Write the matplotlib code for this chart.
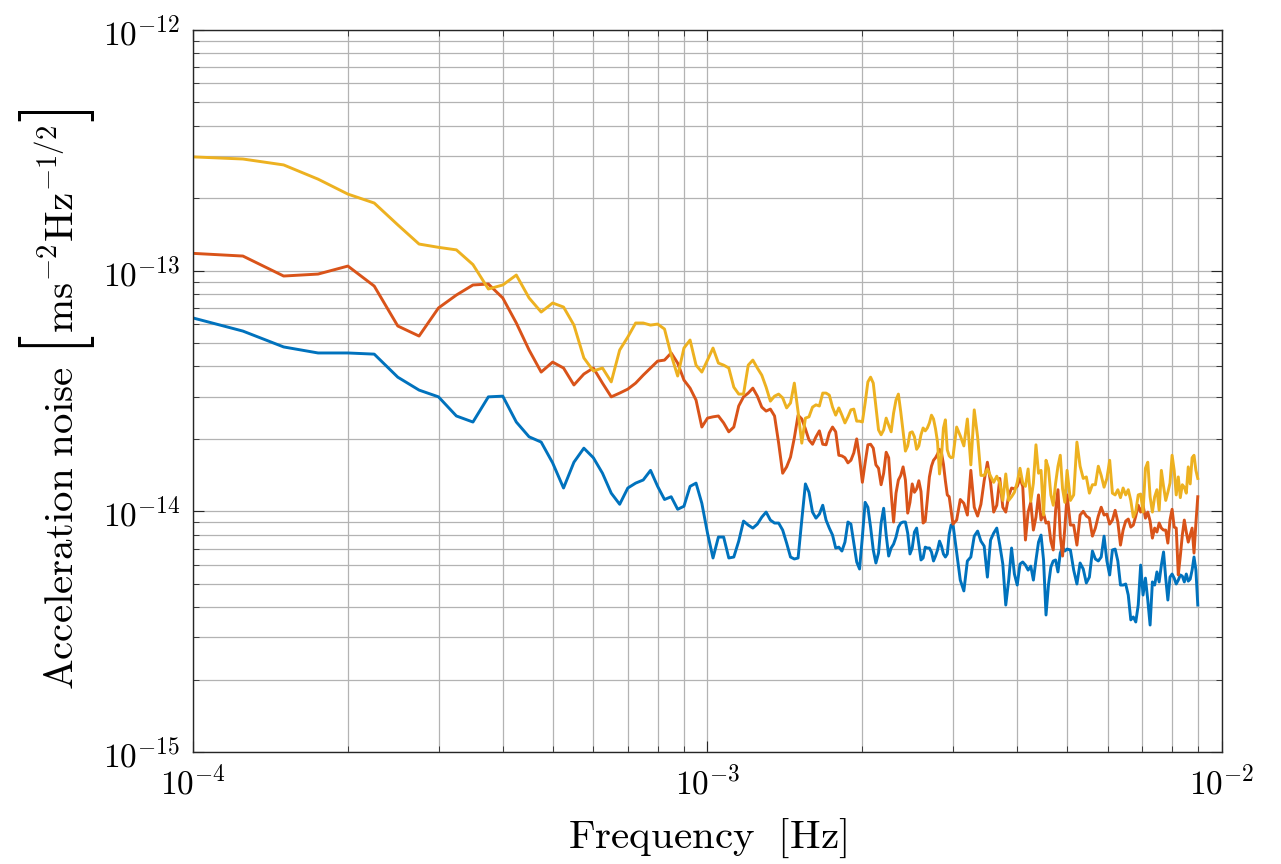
import numpy as np
import matplotlib.pyplot as plt
from matplotlib.ticker import NullFormatter
from matplotlib.transforms import IdentityTransform

# PSD bins are 25 uHz apart: every bin up to 3 mHz, thinned out above that
bins = np.concatenate([np.arange(4, 121), np.arange(122, 201, 2), np.arange(203, 360, 3)])
freq = bins * 2.5e-5

# amplitude spectral densities, in units of 1e-14 m s^-2 Hz^-1/2
asd_blue = [
    6.36, 5.61, 4.82, 4.55, 4.55, 4.50, 3.61, 3.19, 2.99, 2.49,
    2.35, 2.99, 3.01, 2.35, 2.04, 1.94, 1.59, 1.25, 1.60, 1.83,
    1.67, 1.44, 1.19, 1.07, 1.25, 1.31, 1.35, 1.48, 1.27, 1.12,
    1.15, 1.02, 1.05, 1.27, 1.31, 1.08, 0.812, 0.640, 0.782, 0.782,
    0.640, 0.646, 0.752, 0.911, 0.877, 0.852, 0.885, 0.946, 0.993, 0.920,
    0.894, 0.894, 0.836, 0.738, 0.646, 0.634, 0.640, 0.920, 1.30, 1.20,
    0.993, 0.937, 0.974, 1.06, 0.920, 0.852, 0.797, 0.704, 0.710, 0.684,
    0.745, 0.903, 0.885, 0.738, 0.616, 0.576, 0.782, 1.09, 1.04, 0.860,
    0.691, 0.610, 0.671, 0.894, 1.03, 0.797, 0.652, 0.704, 0.731, 0.782,
    0.860, 0.894, 0.903, 0.903, 0.812, 0.665, 0.704, 0.820, 0.852, 0.731,
    0.628, 0.640, 0.710, 0.704, 0.704, 0.678, 0.622, 0.652, 0.691, 0.752,
    0.717, 0.665, 0.646, 0.665, 0.805, 0.877, 0.885,
    0.678, 0.518, 0.467, 0.622, 0.646, 0.789, 0.828, 0.752, 0.717, 0.533,
    0.760, 0.812, 0.852, 0.724, 0.604, 0.408, 0.518, 0.704, 0.549, 0.494,
    0.604, 0.616, 0.598, 0.570, 0.592, 0.518, 0.628, 0.745, 0.797, 0.628,
    0.371, 0.494, 0.587, 0.622, 0.628, 0.560, 0.671, 0.710, 0.684, 0.697,
    0.691, 0.570, 0.499, 0.610, 0.576, 0.504, 0.533, 0.684, 0.634, 0.622,
    0.646, 0.789, 0.622, 0.544, 0.691, 0.697, 0.622, 0.494, 0.494, 0.499,
    0.449, 0.354, 0.364, 0.347, 0.408, 0.598, 0.449, 0.528, 0.428, 0.337,
    0.509, 0.494, 0.560, 0.509, 0.598, 0.678, 0.528, 0.428, 0.533, 0.549,
    0.528, 0.499, 0.518, 0.544, 0.538, 0.509, 0.549, 0.513, 0.523, 0.570,
    0.646, 0.570, 0.408,
]

asd_orange = [
    11.8, 11.5, 9.50, 9.68, 10.45, 8.63, 5.89, 5.35, 7.00, 7.92,
    8.72, 8.80, 7.70, 6.06, 4.68, 3.79, 4.17, 3.94, 3.35, 3.72,
    3.94, 3.41, 2.99, 3.10, 3.22, 3.41, 3.68, 3.94, 4.21, 4.25,
    4.55, 4.13, 3.51, 3.25, 2.90, 2.24, 2.44, 2.47, 2.49, 2.33,
    2.14, 2.24, 2.74, 2.99, 3.10, 3.25, 3.01, 2.71, 2.61, 2.66,
    2.49, 1.92, 1.44, 1.53, 1.68, 2.02, 2.51, 2.42, 2.20, 1.98,
    1.90, 2.04, 2.16, 1.90, 1.89, 2.12, 2.24, 2.14, 1.71, 1.70,
    1.67, 1.59, 1.63, 1.75, 2.00, 1.67, 1.32, 1.59, 1.89, 1.90,
    1.83, 1.56, 1.51, 1.29, 1.44, 1.76, 1.67, 1.19, 0.903, 1.19,
    1.35, 1.41, 1.53, 1.35, 0.983, 1.09, 1.30, 1.20, 1.24, 1.34,
    1.21, 0.894, 0.911, 1.12, 1.39, 1.54, 1.63, 1.67, 1.73, 1.81,
    1.75, 1.57, 1.34, 1.17, 1.15, 1.01, 0.885,
    0.920, 1.12, 1.08, 0.965, 1.48, 1.04, 0.956, 1.07, 1.34, 1.60,
    1.32, 0.993, 1.06, 1.37, 1.04, 0.993, 1.16, 1.25, 1.24, 1.27,
    1.37, 1.27, 0.760, 0.993, 1.09, 0.836, 0.946, 1.17, 0.920, 0.983,
    0.894, 0.903, 0.752, 0.691, 1.01, 1.23, 0.789, 0.652, 0.852, 1.17,
    0.877, 0.877, 0.724, 0.965, 1.00, 0.956, 0.937, 0.789, 0.852, 0.956,
    1.04, 0.965, 0.974, 0.885, 0.920, 1.01, 0.903, 0.724, 0.836, 0.911,
    0.929, 0.860, 0.877, 0.956, 1.06, 0.993, 1.06, 0.937, 0.993, 0.911,
    0.774, 0.852, 0.820, 0.894, 0.852, 0.836, 0.836, 0.738, 0.920, 1.02,
    0.860, 0.852, 0.544, 0.652, 0.797, 0.920, 0.820, 0.745, 0.797, 0.852,
    0.671, 0.894, 1.15,
]

asd_yellow = [
    29.7, 29.1, 27.5, 24.0, 20.8, 19.1, 15.5, 12.9, 12.5, 12.2,
    10.6, 8.39, 8.72, 9.59, 7.70, 6.73, 7.34, 7.06, 5.94, 4.34,
    3.83, 3.94, 3.45, 4.68, 5.30, 6.06, 6.06, 5.94, 6.00, 5.72,
    4.46, 3.65, 4.77, 5.15, 4.05, 3.79, 4.25, 4.77, 4.13, 4.05,
    3.94, 3.28, 3.07, 3.07, 4.05, 4.25, 3.94, 3.68, 3.28, 2.87,
    3.01, 3.07, 2.96, 2.69, 2.82, 3.41, 2.59, 1.92, 2.44, 2.47,
    2.71, 2.77, 2.74, 3.10, 3.10, 3.04, 2.71, 2.51, 2.69, 2.51,
    2.33, 2.47, 2.64, 2.66, 2.37, 2.37, 2.35, 2.82, 3.45, 3.61,
    3.41, 2.71, 2.18, 2.08, 2.18, 2.44, 2.28, 2.14, 2.56, 2.90,
    3.07, 2.59, 2.14, 1.78, 1.87, 2.12, 2.14, 2.04, 1.81, 1.87,
    2.08, 2.22, 2.16, 2.22, 2.33, 2.51, 2.42, 2.20, 1.94, 1.43,
    1.70, 2.22, 2.40, 1.80, 1.70, 1.67, 1.68,
    2.24, 2.06, 1.87, 2.42, 1.56, 2.64, 2.04, 1.41, 1.41, 1.50,
    1.40, 1.32, 1.40, 1.31, 1.11, 1.43, 1.11, 1.15, 1.20, 1.32,
    1.51, 1.31, 1.27, 1.50, 1.10, 1.31, 1.89, 1.44, 1.48, 0.965,
    1.63, 1.51, 1.17, 1.06, 1.31, 1.54, 1.71, 1.24, 1.09, 1.48,
    1.11, 1.17, 1.94, 1.54, 1.37, 1.39, 1.19, 1.29, 1.29, 1.54,
    1.41, 1.26, 1.37, 1.63, 1.19, 1.17, 1.23, 1.14, 1.25, 1.17,
    1.23, 1.11, 0.946, 1.00, 1.17, 1.18, 0.993, 1.51, 1.60, 1.15,
    0.993, 1.15, 1.23, 1.01, 1.48, 1.27, 1.11, 1.20, 1.31, 1.71,
    1.48, 1.17, 1.39, 1.14, 1.29, 1.26, 1.19, 1.53, 1.30, 1.67,
    1.71, 1.48, 1.37,
]

plt.rcParams['mathtext.fontset'] = 'cm'
plt.rcParams['font.family'] = 'serif'
plt.rcParams['font.serif'] = ['cmr10', 'DejaVu Serif']
plt.rcParams['axes.formatter.use_mathtext'] = True

W, H = 1281, 864
fig = plt.figure(figsize=(W / 100, H / 100), dpi=100)
ax = fig.add_axes([0.1507, 0.1296, 0.8032, 0.8357])

# same order as matlab's colour cycle, later series drawn on top
for vals, color in ((asd_blue, '#0072BD'), (asd_orange, '#D95319'), (asd_yellow, '#EDB120')):
    ax.loglog(freq, np.array(vals) * 1e-14, color=color, lw=2.1)

ax.set_xlim(1e-4, 1e-2)
ax.set_ylim(1e-15, 1e-12)
ax.grid(True, which='both', color='#b3b3b3', lw=0.9)
for side in ax.spines.values():
    side.set_color('#262626')
    side.set_linewidth(1.0)
ax.tick_params(which='both', direction='in', top=True, right=True,
               labelsize=24, color='#262626', labelcolor='#000000')
ax.tick_params(which='major', length=8, pad=9)
ax.tick_params(which='minor', length=4.5)
ax.xaxis.set_minor_formatter(NullFormatter())
ax.yaxis.set_minor_formatter(NullFormatter())

ax.set_xlabel(r'$\mathrm{Frequency}\ \ [\mathrm{Hz}]$', fontsize=29.5, labelpad=12)

# y label in pieces so the brackets can be drawn tall, like latex's \left[ \right]
renderer = fig.canvas.get_renderer()
ylabel_parts = [
    (r'$\mathrm{Acceleration\ noise}$', 29.5, 73, 10),
    (r'$[$', 54, 76, 2),
    (r'$\mathrm{ms}^{-2}\mathrm{Hz}^{-1/2}$', 29.5, 73, 2),
    (r'$]$', 54, 76, 0),
]
pos = H - 690
for text, size, x_base, gap in ylabel_parts:
    t = fig.text(x_base, pos, text, fontsize=size, rotation=90, rotation_mode='anchor',
                 ha='left', va='baseline', transform=IdentityTransform())
    pos += t.get_window_extent(renderer).height + gap

fig.savefig('out.png')
